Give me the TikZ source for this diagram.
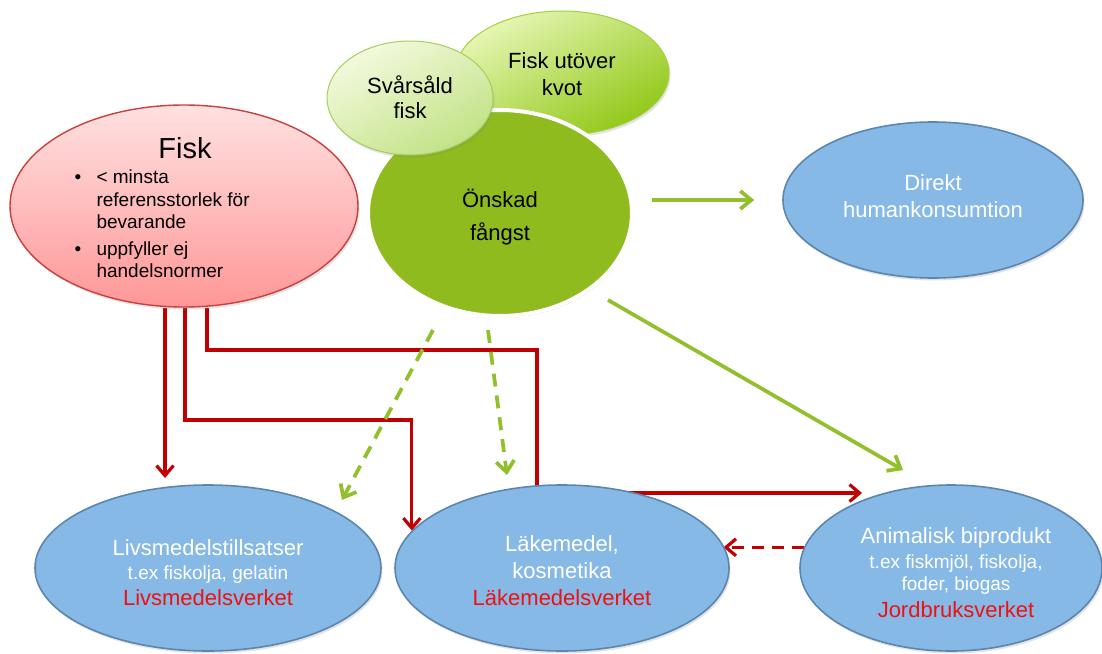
\documentclass[tikz,border=0pt]{standalone}
\usepackage{fontspec}
\setmainfont{Liberation Sans}
\usetikzlibrary{shapes.geometric,arrows.meta,shadows,backgrounds}
\definecolor{redline}{HTML}{C00000}
\definecolor{greenline}{HTML}{92C02C}
\definecolor{bluefill}{HTML}{86B9E6}
\definecolor{blueedge}{HTML}{5B86B0}
\definecolor{agency}{HTML}{EE1111}
\definecolor{redtop}{HTML}{FFE1E1}
\definecolor{redbot}{HTML}{FF9797}
\definecolor{rededge}{HTML}{C9403E}
\definecolor{lgtop}{HTML}{F3FADE}
\definecolor{lgbot}{HTML}{C2E285}
\definecolor{lgedge}{HTML}{A6CF5A}
\definecolor{kvtop}{HTML}{E6F6B4}
\definecolor{kvbot}{HTML}{92C818}
\definecolor{kvedge}{HTML}{A3D13D}
\definecolor{onskadfill}{HTML}{8FBB1E}
\tikzset{
  softshadow/.style={drop shadow={opacity=0.22,shadow xshift=1.5pt,shadow yshift=-2.5pt}},
  oval/.style args={#1x#2}{ellipse,inner sep=0pt,minimum width=#1pt,minimum height=#2pt},
  bluenode/.style={draw=blueedge,line width=1.6pt,fill=bluefill,softshadow},
  bigtxt/.style={anchor=base,font=\fontsize{22}{26}\selectfont},
  smalltxt/.style={anchor=base,font=\fontsize{19}{22}\selectfont},
  whitebig/.style={bigtxt,text=white},
  whitesmall/.style={smalltxt,text=white},
  agencytxt/.style={bigtxt,text=agency},
  blackbig/.style={bigtxt,text=black},
  listtxt/.style={anchor=base west,text=black,font=\fontsize{19}{22}\selectfont},
  redarr/.style={draw=redline,line width=3.2pt,-{Straight Barb[length=10pt,width=17pt]}},
  greenarr/.style={draw=greenline,line width=3.7pt,-{Straight Barb[length=11pt,width=18pt]}},
  greendash/.style={greenarr,dash pattern=on 13pt off 9pt},
  reddash/.style={redarr,dash pattern=on 12pt off 8pt},
}
\begin{document}
\begin{tikzpicture}[x=1pt,y=-1pt]
\useasboundingbox (0,0) rectangle (1102,653);
\begin{pgfonlayer}{background}
  \fill[white] (0,0) rectangle (1102,653);
\end{pgfonlayer}

% ---- shapes ----
\node[oval=348x202,draw=rededge,line width=1.4pt,top color=redtop,bottom color=redbot,softshadow] (fisk) at (184,206) {};
\node[oval=214x124,draw=kvedge,line width=1pt,top color=kvtop,bottom color=kvbot,shading angle=30,softshadow] (kvot) at (562,73) {};
\node[oval=264x206,draw=white,line width=4pt,fill=onskadfill,drop shadow={opacity=0.3,shadow xshift=1pt,shadow yshift=-2pt}] (onskad) at (500,213) {};
\node[oval=166x114,draw=lgedge,line width=1pt,top color=lgtop,bottom color=lgbot,shading angle=30,softshadow] (svar) at (410,98) {};
\node[oval=300x156,bluenode] (direkt) at (933,200) {};
\node[oval=346x166,bluenode] (livs) at (208,568) {};
\node[oval=334x166,bluenode] (lak) at (562,568) {};
\node[oval=302x166,bluenode] (anim) at (951,568) {};

% ---- texts ----
\node[anchor=base,font=\fontsize{29}{32}\selectfont] (fiskT) at (185,158) {Fisk};
\node[listtxt] (bul1) at (71,183) {\textbullet};
\node[listtxt] (f1) at (93,183) {< minsta};
\node[listtxt] (f2) at (93,206) {referensstorlek för};
\node[listtxt] (f3) at (93,228) {bevarande};
\node[listtxt] (bul2) at (71,255) {\textbullet};
\node[listtxt] (f4) at (93,255) {uppfyller ej};
\node[listtxt] (f5) at (93,277) {handelsnormer};

\node[blackbig] (sv1) at (410,93) {Svårsåld};
\node[blackbig] (sv2) at (410,118) {fisk};
\node[blackbig] (kv1) at (562,68) {Fisk utöver};
\node[blackbig] (kv2) at (562,95) {kvot};
\node[blackbig] (on1) at (500,207) {Önskad};
\node[blackbig] (on2) at (500,240) {fångst};

\node[whitebig] (di1) at (933,190) {Direkt};
\node[whitebig] (di2) at (933,217) {humankonsumtion};

\node[whitebig] (li1) at (208,555) {Livsmedelstillsatser};
\node[whitesmall] (li2) at (208,579) {t.ex fiskolja, gelatin};
\node[agencytxt] (li3) at (208,605) {Livsmedelsverket};

\node[whitebig] (la1) at (562,551) {Läkemedel,};
\node[whitebig] (la2) at (562,578) {kosmetika};
\node[agencytxt] (la3) at (562,605) {Läkemedelsverket};

\node[whitebig] (an1) at (956,543) {Animalisk biprodukt};
\node[whitesmall] (an2) at (956,568) {t.ex fiskmjöl, fiskolja,};
\node[whitesmall] (an3) at (956,590) {foder, biogas};
\node[agencytxt] (an4) at (956,617) {Jordbruksverket};

% ---- connectors (behind the shapes) ----
\coordinate (a1) at (165,478);
\coordinate (b1) at (185,420);
\coordinate (c1) at (207,350);
\coordinate (c2) at (537,493);
\coordinate (c3) at (862,493);
\coordinate (g2s) at (608,300);
\coordinate (g2e) at (903,470);
\coordinate (g3s) at (433,330);
\coordinate (g3e) at (342,500);
\coordinate (g4s) at (488,330);
\coordinate (g4e) at (507,475);
\begin{pgfonlayer}{background}
  \draw[redarr] (fisk.south -| a1) -- (a1);
  \draw[redarr] (fisk.south -| b1) -- (b1) -| (lak.166);
  \draw[redarr] (fisk.south -| c1) -- (c1) -| (c2) -- (c3);
  \draw[reddash] (anim.172) -- (anim.172 -| lak.8);
  \draw[greenarr,shorten <=18pt,shorten >=28pt] (onskad.east |- direkt.west) -- (direkt.west);
  \draw[greenarr] (g2s) -- (g2e);
  \draw[greendash] (g3s) -- (g3e);
  \draw[greendash] (g4s) -- (g4e);
\end{pgfonlayer}
\end{tikzpicture}
\end{document}
